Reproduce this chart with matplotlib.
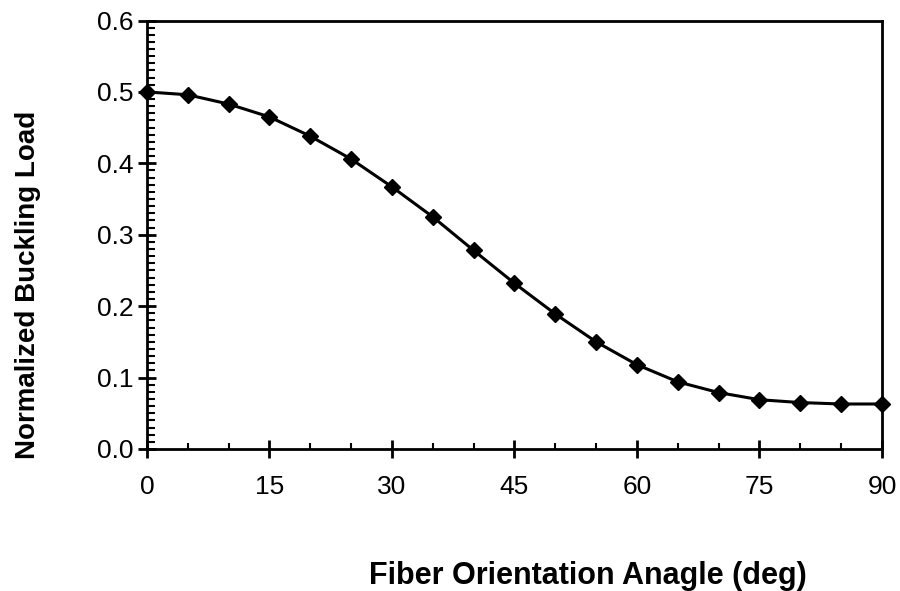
import numpy as np
import matplotlib.pyplot as plt
from matplotlib.ticker import MultipleLocator

# fiber angle (deg) vs normalized buckling load
angle = [0, 5, 10, 15, 20, 25, 30, 35, 40, 45, 50, 55, 60, 65, 70, 75, 80, 85, 90]
load = [0.500, 0.496, 0.483, 0.465, 0.438, 0.406, 0.367, 0.325, 0.278, 0.232,
        0.189, 0.150, 0.118, 0.094, 0.079, 0.069, 0.065, 0.063, 0.063]

plt.rcParams['font.family'] = ['Liberation Sans', 'DejaVu Sans']

fig = plt.figure(figsize=(9, 5.91), dpi=100)
ax = fig.add_axes([0.1633, 0.2403, 0.8167, 0.725])

ax.plot(angle, load, color='black', linewidth=2.2, marker='D', markersize=8.5,
        markerfacecolor='black', markeredgecolor='black', clip_on=False, zorder=3)

ax.set_xlim(0, 90)
ax.set_ylim(0, 0.6)
ax.xaxis.set_major_locator(MultipleLocator(15))
ax.xaxis.set_minor_locator(MultipleLocator(5))
ax.yaxis.set_major_locator(MultipleLocator(0.1))
ax.yaxis.set_minor_locator(MultipleLocator(0.01))
ax.yaxis.set_major_formatter(plt.FormatStrFormatter('%.1f'))

ax.tick_params(axis='both', which='major', direction='inout', length=13, width=2,
               labelsize=19)
ax.tick_params(axis='y', which='major', pad=3)
ax.tick_params(axis='x', which='major', pad=12)
ax.tick_params(axis='y', which='minor', direction='in', length=6, width=1.5)
ax.tick_params(axis='x', which='minor', direction='in', length=4.5, width=1.5)

for s in ax.spines.values():
    s.set_linewidth(2)

fig.text(0.031, 0.518, 'Normalized Buckling Load', rotation=90, ha='center',
         va='center', fontsize=20, fontweight='bold')
fig.text(0.653, 0.0254, 'Fiber Orientation Anagle (deg)', ha='center', va='center',
         fontsize=22, fontweight='bold')

fig.savefig('out.png', dpi=100)
